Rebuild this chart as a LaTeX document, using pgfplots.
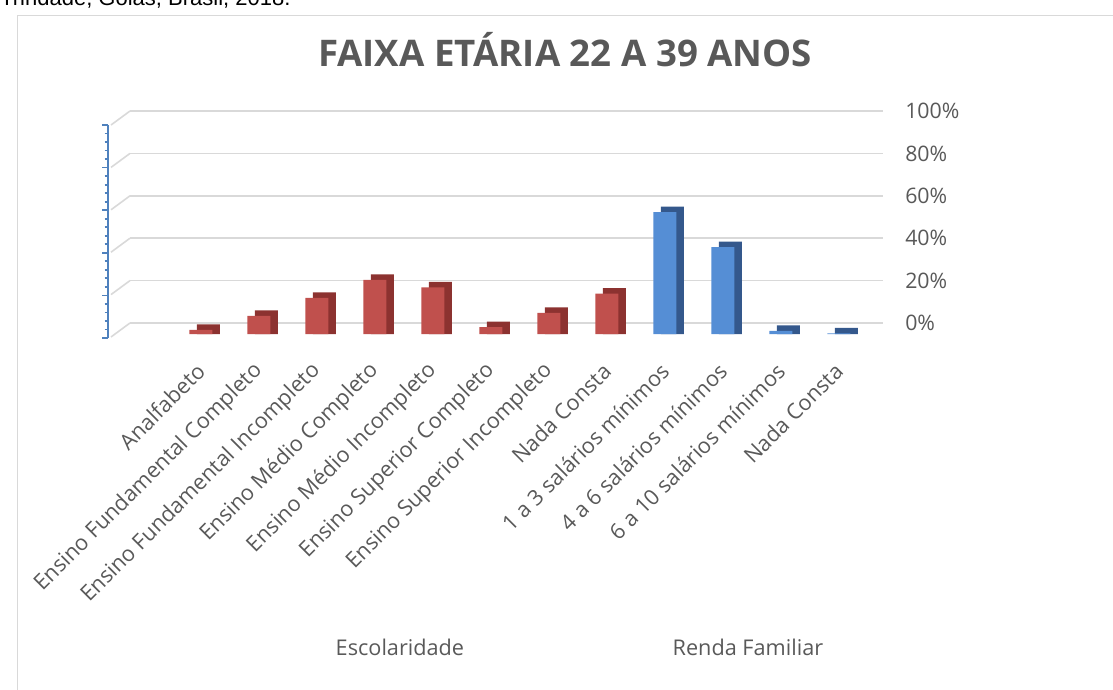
\documentclass[border=0pt]{standalone}
\usepackage{pgfplots}
\pgfplotsset{compat=1.18}
\usepackage{pgfplotstable}
\usepackage{fontspec}
\setmainfont{Open Sans}
\newfontfamily\arialf{Liberation Sans}
\definecolor{txt}{HTML}{595959}
\definecolor{gridc}{HTML}{D9D9D9}
\definecolor{borderc}{HTML}{D9D9D9}
\definecolor{redf}{HTML}{C0504D}
\definecolor{redd}{HTML}{8C3230}
\definecolor{bluef}{HTML}{558ED5}
\definecolor{blued}{HTML}{34588C}
\definecolor{axblue}{HTML}{4F81BD}

\pgfplotstableread{
x v
0 2
1 8.5
2 17
3 25.5
4 22
5 3.3
6 10
7 19
}\escolaridade
\pgfplotstableread{
x v
8 57.5
9 41
10 1.5
11 0.3
}\renda

\begin{document}
\begin{tikzpicture}
\useasboundingbox (0pt,0pt) rectangle (834.75pt,-516.75pt);
\node[anchor=base west, inner sep=0pt, font=\arialf\fontsize{16.5}{18}\selectfont, text=black] at (0pt,-3.75pt) {Trindade, Goiás, Brasil, 2018.};
\draw[borderc, line width=0.75pt] (12.75pt,-520pt) -- (12.75pt,-11.25pt) -- (840pt,-11.25pt);
\node[anchor=base, inner sep=0pt, font=\bfseries\fontsize{27.5}{32}\selectfont, text=txt] at (423.75pt,-49.5pt) {FAIXA ETÁRIA 22 A 39 ANOS};

\begin{axis}[
  at={(97.5pt,-250.5pt)}, anchor=south west,
  scale only axis, width=564.75pt, height=167.25pt,
  xmin=-1.224, xmax=11.759, ymin=0, ymax=105.2,
  clip=false,
  axis line style={draw=none},
  major tick length=0pt,
  xtick={0,...,11},
  xticklabels={Analfabeto, Ensino Fundamental Completo, Ensino Fundamental Incompleto, Ensino Médio Completo, Ensino Médio Incompleto, Ensino Superior Completo, Ensino Superior Incompleto, Nada Consta, 1 a 3 salários mínimos, 4 a 6 salários mínimos, 6 a 10 salários mínimos, Nada Consta},
  xticklabel style={font=\fontsize{16.25}{18}\selectfont, text=txt, anchor=east, rotate=45, inner sep=0pt},
  xticklabel shift=25pt,
  ytick={5.2,25.2,45.2,65.2,85.2,105.2},
  yticklabels={0\%,20\%,40\%,60\%,80\%,100\%},
  yticklabel pos=right,
  yticklabel style={font=\fontsize{16}{18}\selectfont, text=txt, anchor=west, inner sep=0pt, xshift=16.5pt},
  ymajorgrids,
  grid style={gridc, line width=1.2pt},
]
\pgfplotsinvokeforeach{5.2,25.2,45.2,65.2,85.2,105.2}{
  \draw[gridc, line width=1.2pt] (axis cs:-1.224,#1) -- ++(-14.25pt,-10.5pt);
}
\addplot[ybar, bar width=17.25pt, bar shift=5.625pt, fill=redd, draw=none] table[x=x, y expr=\thisrow{v}+2.6] {\escolaridade};
\addplot[ybar, bar width=17.25pt, bar shift=0pt, fill=redf, draw=none] table[x=x, y=v] {\escolaridade};
\addplot[ybar, bar width=17.25pt, bar shift=5.625pt, fill=blued, draw=none] table[x=x, y expr=\thisrow{v}+2.6] {\renda};
\addplot[ybar, bar width=17.25pt, bar shift=0pt, fill=bluef, draw=none] table[x=x, y=v] {\renda};
\node[font=\fontsize{16.25}{18}\selectfont, text=txt] at (axis cs:3.43,-148) {Escolaridade};
\node[font=\fontsize{16.25}{18}\selectfont, text=txt] at (axis cs:9.43,-148) {Renda Familiar};
\end{axis}

\begin{axis}[
  at={(81pt,-253.5pt)}, anchor=south west,
  scale only axis, width=10pt, height=159.75pt,
  xmin=0, xmax=1, ymin=0, ymax=100,
  axis x line=none,
  axis y line*=left,
  y axis line style={axblue, line width=1.6pt, -},
  ytick={0,20,...,100}, minor y tick num=4,
  yticklabels={},
  xtick=\empty,
  tick align=outside,
  major tick length=4.5pt, minor tick length=2.5pt,
  tick style={axblue, line width=1.3pt},
]
\addplot[draw=none] coordinates {(0,0)};
\end{axis}
\end{tikzpicture}
\end{document}
